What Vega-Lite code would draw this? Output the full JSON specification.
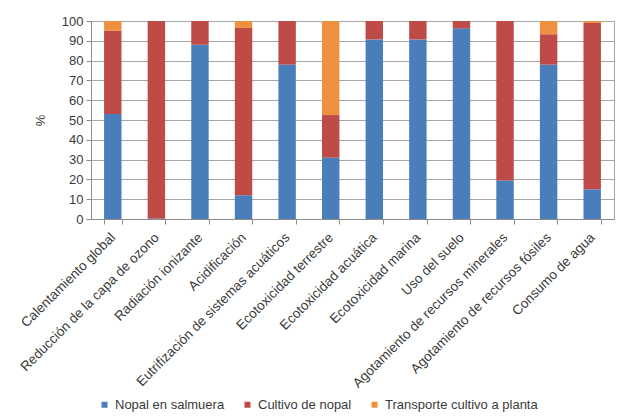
{
  "$schema": "https://vega.github.io/schema/vega-lite/v6.json",
  "autosize": "none",
  "width": 523,
  "height": 198,
  "padding": {"left": 91, "top": 21, "right": 13, "bottom": 198},
  "background": "white",
  "config": {
    "font": "Liberation Sans",
    "view": {"stroke": "#a6a6a6", "strokeWidth": 1},
    "axis": {"labelFont": "Liberation Sans", "titleFont": "Liberation Sans", "labelColor": "#3a3a3a", "titleColor": "#3a3a3a", "domainColor": "#8c8c8c", "tickColor": "#8c8c8c"}
  },
  "data": {
    "values": [
      {"categoria": "Calentamiento global", "serie": "Nopal en salmuera", "valor": 53},
      {"categoria": "Calentamiento global", "serie": "Cultivo de nopal", "valor": 42},
      {"categoria": "Calentamiento global", "serie": "Transporte cultivo a planta", "valor": 5},
      {"categoria": "Reducción de la capa de ozono", "serie": "Nopal en salmuera", "valor": 0.3},
      {"categoria": "Reducción de la capa de ozono", "serie": "Cultivo de nopal", "valor": 99.7},
      {"categoria": "Reducción de la capa de ozono", "serie": "Transporte cultivo a planta", "valor": 0},
      {"categoria": "Radiación ionizante", "serie": "Nopal en salmuera", "valor": 88},
      {"categoria": "Radiación ionizante", "serie": "Cultivo de nopal", "valor": 12},
      {"categoria": "Radiación ionizante", "serie": "Transporte cultivo a planta", "valor": 0},
      {"categoria": "Acidificación", "serie": "Nopal en salmuera", "valor": 12},
      {"categoria": "Acidificación", "serie": "Cultivo de nopal", "valor": 84.5},
      {"categoria": "Acidificación", "serie": "Transporte cultivo a planta", "valor": 3.5},
      {"categoria": "Eutrifización de sistemas acuáticos", "serie": "Nopal en salmuera", "valor": 78},
      {"categoria": "Eutrifización de sistemas acuáticos", "serie": "Cultivo de nopal", "valor": 22},
      {"categoria": "Eutrifización de sistemas acuáticos", "serie": "Transporte cultivo a planta", "valor": 0},
      {"categoria": "Ecotoxicidad terrestre", "serie": "Nopal en salmuera", "valor": 31},
      {"categoria": "Ecotoxicidad terrestre", "serie": "Cultivo de nopal", "valor": 21.5},
      {"categoria": "Ecotoxicidad terrestre", "serie": "Transporte cultivo a planta", "valor": 47.5},
      {"categoria": "Ecotoxicidad acuática", "serie": "Nopal en salmuera", "valor": 90.7},
      {"categoria": "Ecotoxicidad acuática", "serie": "Cultivo de nopal", "valor": 9.3},
      {"categoria": "Ecotoxicidad acuática", "serie": "Transporte cultivo a planta", "valor": 0},
      {"categoria": "Ecotoxicidad marina", "serie": "Nopal en salmuera", "valor": 90.7},
      {"categoria": "Ecotoxicidad marina", "serie": "Cultivo de nopal", "valor": 9.3},
      {"categoria": "Ecotoxicidad marina", "serie": "Transporte cultivo a planta", "valor": 0},
      {"categoria": "Uso del suelo", "serie": "Nopal en salmuera", "valor": 96.3},
      {"categoria": "Uso del suelo", "serie": "Cultivo de nopal", "valor": 3.7},
      {"categoria": "Uso del suelo", "serie": "Transporte cultivo a planta", "valor": 0},
      {"categoria": "Agotamiento de recursos minerales", "serie": "Nopal en salmuera", "valor": 19.5},
      {"categoria": "Agotamiento de recursos minerales", "serie": "Cultivo de nopal", "valor": 80.5},
      {"categoria": "Agotamiento de recursos minerales", "serie": "Transporte cultivo a planta", "valor": 0},
      {"categoria": "Agotamiento de recursos fósiles", "serie": "Nopal en salmuera", "valor": 78},
      {"categoria": "Agotamiento de recursos fósiles", "serie": "Cultivo de nopal", "valor": 15.3},
      {"categoria": "Agotamiento de recursos fósiles", "serie": "Transporte cultivo a planta", "valor": 6.7},
      {"categoria": "Consumo de agua", "serie": "Nopal en salmuera", "valor": 15},
      {"categoria": "Consumo de agua", "serie": "Cultivo de nopal", "valor": 84},
      {"categoria": "Consumo de agua", "serie": "Transporte cultivo a planta", "valor": 1}
    ]
  },
  "transform": [
    {"calculate": "indexof(['Nopal en salmuera', 'Cultivo de nopal', 'Transporte cultivo a planta'], datum.serie)", "as": "orden"}
  ],
  "mark": {"type": "bar"},
  "encoding": {
    "x": {
      "field": "categoria",
      "type": "nominal",
      "sort": null,
      "scale": {"paddingInner": 0.6, "paddingOuter": 0.3},
      "axis": {"title": null, "labelAngle": -45, "labelAlign": "right", "labelBaseline": "middle", "labelFontSize": 13.5, "labelLimit": 0, "tickBand": "extent", "tickSize": 5, "labelPadding": 11, "grid": false}
    },
    "y": {
      "field": "valor",
      "type": "quantitative",
      "stack": "zero",
      "scale": {"domain": [0, 100], "nice": false},
      "axis": {"title": "%", "values": [0,10,20,30,40,50,60,70,80,90,100], "labelFontSize": 13, "tickSize": 5, "labelPadding": 3, "titleFontSize": 13, "titleFontWeight": "normal", "titlePadding": 14, "grid": true, "gridColor": "#a6a6a6", "gridWidth": 1}
    },
    "order": {"field": "orden", "type": "quantitative", "sort": "ascending"},
    "color": {
      "field": "serie",
      "type": "nominal",
      "scale": {"domain": ["Nopal en salmuera", "Cultivo de nopal", "Transporte cultivo a planta"], "range": ["#4A7EBB", "#BE4B48", "#EE9040"]},
      "legend": {"title": null, "orient": "none", "direction": "horizontal", "legendX": 7, "legendY": 377, "symbolType": "square", "symbolSize": 36, "labelFontSize": 13, "labelColor": "#3a3a3a", "columnPadding": 16, "symbolOffset": 0}
    }
  }
}
